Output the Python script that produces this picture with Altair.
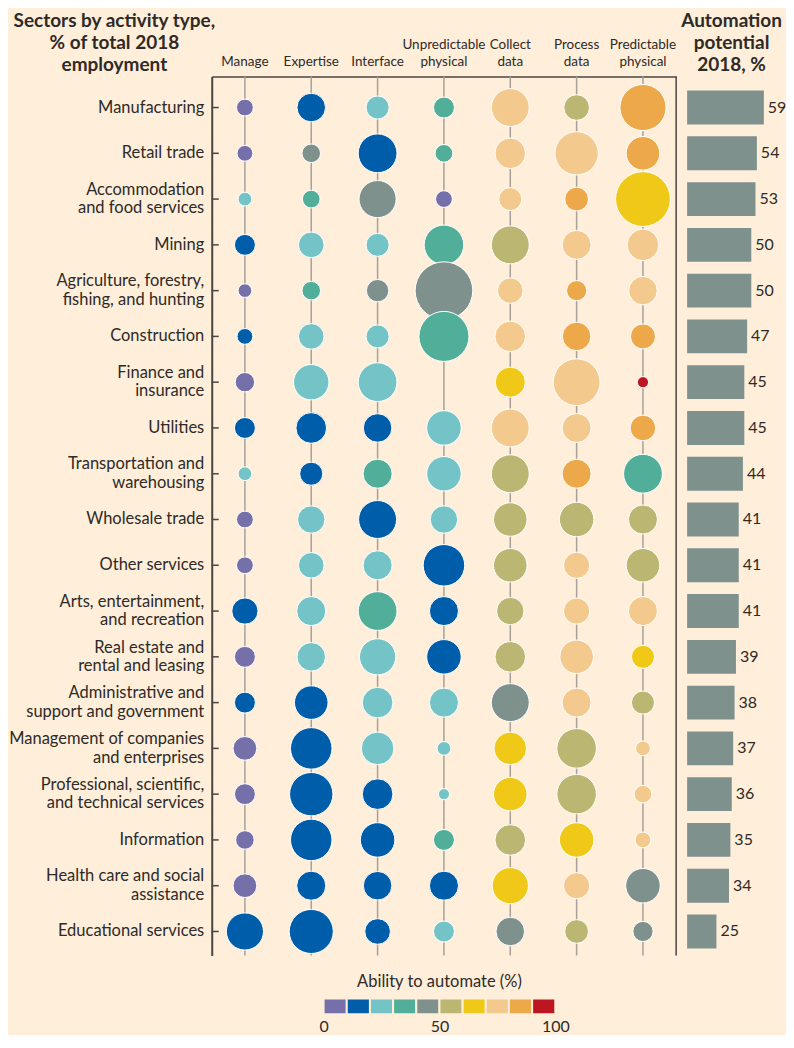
import altair as alt
import pandas as pd

# ---------------- data ----------------
sectors = [
    "Manufacturing",
    "Retail trade",
    "Accommodation|and food services",
    "Mining",
    "Agriculture, forestry,|fishing, and hunting",
    "Construction",
    "Finance and|insurance",
    "Utilities",
    "Transportation and|warehousing",
    "Wholesale trade",
    "Other services",
    "Arts, entertainment,|and recreation",
    "Real estate and|rental and leasing",
    "Administrative and|support and government",
    "Management of companies|and enterprises",
    "Professional, scientific,|and technical services",
    "Information",
    "Health care and social|assistance",
    "Educational services",
]
activities = ["Manage", "Expertise", "Interface", "Unpredictable|physical",
              "Collect|data", "Process|data", "Predictable|physical"]

# share of sector working time by activity type (%) -> bubble size
share_manage        = [4.5, 4, 3, 7, 3, 4, 6, 7, 3, 4.5, 4.5, 11, 7, 7, 9, 7, 5.5, 9, 22]
share_expertise     = [13, 5.5, 5, 10.5, 5.5, 10.5, 20, 15, 8.5, 12, 10.5, 13.5, 13, 18, 27.5, 30, 27.5, 13.5, 31]
share_interface     = [8.5, 24, 22, 8.5, 8, 8.5, 24, 13, 13.5, 23, 13.5, 24, 21, 15, 17, 15, 19, 13, 10.5]
share_unpredictable = [7, 5, 4.5, 25, 53, 40, 0, 19, 19, 12, 27.5, 13.5, 19, 13.5, 3, 2, 7, 13.5, 7]
share_collect       = [23, 15, 8.5, 23, 10.5, 15, 14.5, 23, 23, 18, 18, 12, 15, 23, 17, 18, 15, 21, 13]
share_process       = [10.5, 30, 9, 13.5, 6.5, 13, 35, 13.5, 13.5, 19, 11, 11, 18, 13.5, 25, 25, 19, 11, 9]
share_predictable   = [34, 18, 48, 16, 13, 10, 2, 10.5, 24, 13.5, 18, 13.5, 8.5, 8.5, 3.5, 5, 4, 19, 6.5]

# ability to automate (%) -> bubble colour
ability_manage        = [5, 5, 25, 15, 5, 15, 5, 15, 25, 5, 5, 15, 5, 15, 5, 5, 5, 5, 15]
ability_expertise     = [15, 45, 35, 25, 35, 25, 25, 15, 15, 25, 25, 25, 25, 15, 15, 15, 15, 15, 15]
ability_interface     = [25, 15, 45, 25, 45, 25, 25, 15, 35, 15, 25, 35, 25, 25, 25, 15, 15, 15, 15]
ability_unpredictable = [35, 35, 5, 35, 45, 35, None, 25, 25, 25, 15, 15, 15, 25, 25, 25, 35, 15, 25]
ability_collect       = [75, 75, 75, 55, 75, 75, 65, 75, 55, 55, 55, 55, 55, 45, 65, 65, 55, 65, 45]
ability_process       = [55, 75, 85, 75, 85, 85, 75, 75, 85, 55, 75, 75, 75, 75, 55, 55, 65, 75, 55]
ability_predictable   = [85, 85, 65, 75, 75, 85, 95, 85, 35, 55, 55, 75, 65, 55, 75, 75, 75, 45, 45]

# automation potential 2018 (%)
potential = [59, 54, 53, 50, 50, 47, 45, 45, 44, 41, 41, 41, 39, 38, 37, 36, 35, 34, 25]

# colour legend bins
legend_start = [0, 10, 20, 30, 40, 50, 60, 70, 80, 90]
legend_end = [10, 20, 30, 40, 50, 60, 70, 80, 90, 100]
legend_ticks = [0, 50, 100]

# ---------------- styling ----------------
bg = "#FEEEDA"
dark = "#2E2A27"
axis_c = "#4B4541"
colors = ["#7670AA", "#005DAA", "#74C4C7", "#51AE98", "#7F918D",
          "#BBB672", "#F0C918", "#F4C98E", "#EDA84A", "#BB1621"]
thresholds = [10, 20, 30, 40, 50, 60, 70, 80, 90]
color_scale = alt.Scale(type="threshold", domain=thresholds, range=colors)

shares = [share_manage, share_expertise, share_interface, share_unpredictable,
          share_collect, share_process, share_predictable]
abilities = [ability_manage, ability_expertise, ability_interface, ability_unpredictable,
             ability_collect, ability_process, ability_predictable]

rows = []
for j, a in enumerate(activities):
    for i, s in enumerate(sectors):
        rows.append({"sector": s, "activity": a, "share": shares[j][i],
                     "ability": abilities[j][i], "row": i})
df = pd.DataFrame(rows)
act_df = pd.DataFrame({"activity": activities})
sec_df = pd.DataFrame({"sector": sectors})
bar_df = pd.DataFrame({"sector": sectors, "potential": potential})
leg_df = pd.DataFrame({"start": legend_start, "end": legend_end})

W_BUB = 465
W_ALL = 575
H = 880
TITLE_FS = 19
TITLE_Y = -65

yscale = alt.Scale(type="band", paddingInner=0.26, paddingOuter=0.23, align=0.666)
yaxis = alt.Axis(
    orient="left", domain=True, domainColor=axis_c, domainWidth=2, ticks=False,
    labelExpr="split(datum.label, '|')", labelFontSize=16.5, labelColor=dark,
    labelLineHeight=18.5, labelPadding=8, labelLimit=320, grid=False,
    labelOffset={"condition": {"test": "indexof(datum.label, '|') >= 0", "value": -9.25}, "value": 0},
    title=["Sectors by activity type,", "% of total 2018", "employment"],
    titleAngle=0, titleAlign="center", titleBaseline="top",
    titleX=-98, titleY=TITLE_Y, titleFontSize=TITLE_FS, titleFontWeight="bold",
    titleLineHeight=22, titleColor=dark,
)
Y = alt.Y("sector:N", sort=sectors, scale=yscale, axis=yaxis)

xscale = alt.Scale(type="band", range=[0, W_BUB], paddingInner=0, paddingOuter=0)
xaxis = alt.Axis(
    orient="top", domain=True, domainColor=axis_c, domainWidth=1.5, ticks=False,
    labelExpr="indexof(datum.label, '|') >= 0 ? split(datum.label, '|') : ['', datum.label]",
    labelFontSize=13.5, labelColor=dark, labelLineHeight=17, labelPadding=25,
    labelAngle=0, title=None, grid=False,
)
X = alt.X("activity:N", sort=activities, scale=xscale, axis=xaxis)

grid = alt.Chart(act_df).mark_rule(color="#A7A19A", strokeWidth=1.5).encode(x=X)

bubbles = alt.Chart(df).transform_filter("datum.share > 0").mark_circle(
    opacity=1, stroke="white", strokeWidth=1
).encode(
    x=X, y=Y,
    size=alt.Size("share:Q", scale=alt.Scale(domain=[0, 100], range=[0, 6283], zero=True), legend=None),
    color=alt.Color("ability:Q", scale=color_scale, legend=None),
    order=alt.Order("row:Q"),
)

ticks = alt.Chart(sec_df).mark_rule(color=axis_c, strokeWidth=1.5).encode(
    y=Y, x=alt.value(0), x2=alt.value(7)
)
border = alt.Chart(pd.DataFrame({"k": [0]})).mark_rule(color=axis_c, strokeWidth=1.5).encode(
    x=alt.value(W_BUB)
)

bx = alt.X(
    "potential:Q",
    scale=alt.Scale(domain=[4, 67], range=[476, 564], nice=False, zero=False),
    axis=alt.Axis(orient="top", title=["Automation", "potential", "2018, %"],
                  labels=False, ticks=False, domain=False, grid=False,
                  titleFontSize=TITLE_FS, titleFontWeight="bold", titleLineHeight=22,
                  titleColor=dark, titleBaseline="top", titleY=TITLE_Y),
)
bars = alt.Chart(bar_df).mark_bar(color="#7F918D").encode(x=bx, x2=alt.datum(4), y=Y)
bar_text = alt.Chart(bar_df).mark_text(
    align="left", baseline="middle", dx=4, fontSize=16, color=dark, clip=True
).encode(x=bx, y=Y, text="potential:Q")

top = alt.layer(
    alt.layer(grid, bubbles, ticks, border),
    alt.layer(bars, bar_text),
).resolve_scale(x="independent").properties(width=W_ALL, height=H)

lx = alt.X(
    "start:Q",
    scale=alt.Scale(domain=[0, 100], range=[112, 344], nice=False, zero=False),
    axis=alt.Axis(values=legend_ticks, domain=False, ticks=False, grid=False,
                  labelFontSize=16, labelColor=dark, labelPadding=4, title=None,
                  labelFlush=False),
)
rects = alt.Chart(leg_df).mark_rect(stroke=bg, strokeWidth=2).encode(
    x=lx, x2="end:Q", color=alt.Color("start:Q", scale=color_scale, legend=None)
)
leg_title = alt.Chart(pd.DataFrame({"t": ["Ability to automate (%)"]})).mark_text(
    baseline="bottom", fontSize=16.5, color=dark
).encode(x=alt.datum(50), y=alt.value(-8), text="t:N")
legend = alt.layer(rects, leg_title).properties(width=360, height=16)

chart = alt.vconcat(top, legend, spacing=18).configure(
    font="Lato", background=bg,
    padding={"top": 3, "left": 0, "right": 0, "bottom": 0},
).configure_view(stroke=None)

chart.save("out.html", embed_options={"renderer": "svg", "actions": False})
